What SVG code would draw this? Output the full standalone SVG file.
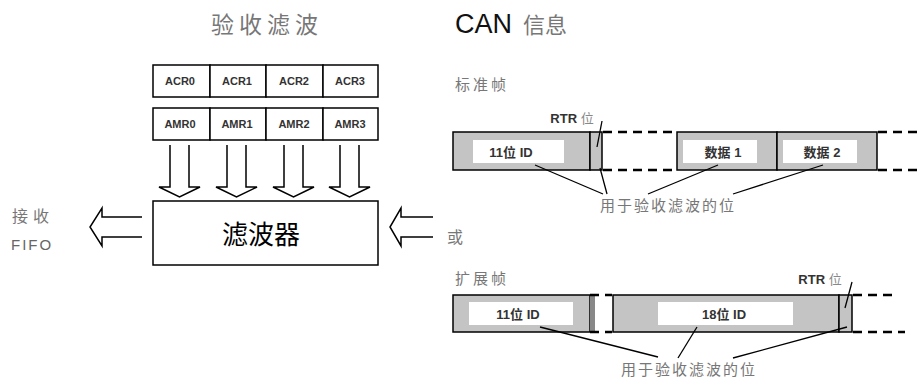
<svg xmlns="http://www.w3.org/2000/svg" width="919" height="378" viewBox="0 0 919 378">
<style>
.cell{fill:#fff;stroke:#000;stroke-width:1.5}
.reg{font-family:"Liberation Sans",Arial,sans-serif;font-size:11px;font-weight:bold;fill:#333;text-anchor:middle}
.harrow{fill:none;stroke:#000;stroke-width:1.5}
.cjk{font-family:"Noto Sans CJK SC",sans-serif}
.gray{fill:#777}
.frame{fill:#c4c4c4;stroke:#000;stroke-width:1.5}
.inner{fill:#fff}
.flab{font-family:"Liberation Sans","Noto Sans CJK SC",sans-serif;font-size:13px;font-weight:bold;fill:#333;text-anchor:middle}
.dash{stroke:#000;stroke-width:2.5;stroke-dasharray:9 6;fill:none}
.ln{stroke:#000;stroke-width:1.3;fill:none}
</style>

<text x="267" y="33" class="cjk gray" font-size="23" text-anchor="middle" letter-spacing="5">验收滤波</text>

<g id="acr">
<rect class="cell" x="153" y="65" width="57" height="32"/>
<rect class="cell" x="210" y="65" width="56" height="32"/>
<rect class="cell" x="266" y="65" width="57" height="32"/>
<rect class="cell" x="323" y="65" width="55" height="32"/>
<text class="reg" x="180" y="85">ACR0</text>
<text class="reg" x="237" y="85">ACR1</text>
<text class="reg" x="294" y="85">ACR2</text>
<text class="reg" x="350" y="85">ACR3</text>
</g>

<g id="amr">
<rect class="cell" x="153" y="108" width="57" height="32"/>
<rect class="cell" x="210" y="108" width="56" height="32"/>
<rect class="cell" x="266" y="108" width="57" height="32"/>
<rect class="cell" x="323" y="108" width="55" height="32"/>
<text class="reg" x="180" y="128">AMR0</text>
<text class="reg" x="237" y="128">AMR1</text>
<text class="reg" x="294" y="128">AMR2</text>
<text class="reg" x="350" y="128">AMR3</text>
</g>

<g id="filter">
<rect x="153" y="201" width="225" height="64" fill="#fff" stroke="#000" stroke-width="1.5"/>
<text x="261" y="244" class="cjk" font-size="26" fill="#000" text-anchor="middle">滤波器</text>
</g>

<g id="fifo">
<text x="12" y="222" class="cjk gray" font-size="16" letter-spacing="5">接收</text>
<text x="11" y="250" font-family="Liberation Sans,sans-serif" font-size="15" fill="#666" letter-spacing="2">FIFO</text>
</g>

<g id="connectors">
<path class="harrow" d="M170,145 V187 H159 L179.5,197 L200,187 H189 V145"/>
<path class="harrow" d="M227,145 V187 H216 L236.5,197 L257,187 H246 V145"/>
<path class="harrow" d="M284,145 V187 H273 L293.5,197 L314,187 H303 V145"/>
<path class="harrow" d="M340,145 V187 H329 L349.5,197 L370,187 H359 V145"/>
<path class="harrow" d="M142,217 H102 V208 L90,227 L102,246 V237 H142"/>
<path class="harrow" d="M433,217 H401 V208 L390,227 L401,246 V237 H433"/>
</g>

<g id="can-title">
<text x="455" y="33" font-family="Liberation Sans,sans-serif" font-size="27" fill="#111">CAN</text>
<text x="523" y="33" class="cjk gray" font-size="22">信息</text>
</g>

<g id="std-frame">
<text x="455" y="90" class="cjk gray" font-size="15" letter-spacing="3">标准帧</text>
<text x="572" y="123" class="flab" text-anchor="start">RTR <tspan class="cjk" font-weight="normal" fill="#888">位</tspan></text>
<rect class="frame" x="453" y="132" width="137" height="38"/>
<rect class="inner" x="473" y="140" width="91" height="23"/>
<text class="flab" x="511" y="157">11位 ID</text>
<rect class="frame" x="590" y="132" width="12" height="38"/>
<line class="dash" x1="603" y1="132" x2="677" y2="132"/>
<line class="dash" x1="603" y1="170" x2="677" y2="170"/>
<rect class="frame" x="677" y="132" width="100" height="38"/>
<rect class="inner" x="683" y="140" width="74" height="23"/>
<text class="flab" x="723" y="157">数据 1</text>
<rect class="frame" x="777" y="132" width="100" height="38"/>
<rect class="inner" x="783" y="140" width="74" height="23"/>
<text class="flab" x="822" y="157">数据 2</text>
<line class="dash" x1="878" y1="132" x2="919" y2="132" stroke-dasharray="12 5"/>
<line class="dash" x1="878" y1="170" x2="919" y2="170" stroke-dasharray="12 5"/>
<line class="ln" x1="602" y1="121" x2="597" y2="147"/>
<line class="ln" x1="535" y1="165" x2="603" y2="194"/>
<line class="ln" x1="600" y1="168" x2="607" y2="194"/>
<line class="ln" x1="718" y1="165" x2="648" y2="194"/>
<line class="ln" x1="823" y1="165" x2="733" y2="194"/>
<text x="668" y="211" class="cjk gray" font-size="15" text-anchor="middle" letter-spacing="2">用于验收滤波的位</text>
</g>

<text x="447" y="243" class="cjk gray" font-size="16">或</text>

<g id="ext-frame">
<text x="455" y="284" class="cjk gray" font-size="15" letter-spacing="3">扩展帧</text>
<text x="820" y="284" class="flab" text-anchor="start">RTR <tspan class="cjk" font-weight="normal" fill="#888">位</tspan></text>
<rect class="frame" x="453" y="295" width="137" height="37"/>
<rect x="590" y="296" width="5" height="35" fill="#888"/>
<rect class="inner" x="469" y="302" width="104" height="23"/>
<text class="flab" x="518" y="319">11位  ID</text>
<line class="dash" x1="590" y1="295" x2="612" y2="295" stroke-dasharray="12 5"/>
<line class="dash" x1="590" y1="332" x2="612" y2="332" stroke-dasharray="12 5"/>
<rect class="frame" x="613" y="295" width="226" height="37"/>
<rect class="inner" x="658" y="302" width="135" height="23"/>
<text class="flab" x="724" y="319">18位  ID</text>
<rect class="frame" x="839" y="295" width="13" height="37"/>
<line class="dash" x1="853" y1="295" x2="895" y2="295" stroke-dasharray="12 5"/>
<line class="dash" x1="853" y1="332" x2="905" y2="332" stroke-dasharray="12 5"/>
<line class="ln" x1="852" y1="282" x2="845" y2="308"/>
<line class="ln" x1="540" y1="327" x2="658" y2="357"/>
<line class="ln" x1="697" y1="327" x2="678" y2="358"/>
<line class="ln" x1="847" y1="327" x2="733" y2="358"/>
<text x="689" y="375" class="cjk gray" font-size="15" text-anchor="middle" letter-spacing="2">用于验收滤波的位</text>
</g>
</svg>
